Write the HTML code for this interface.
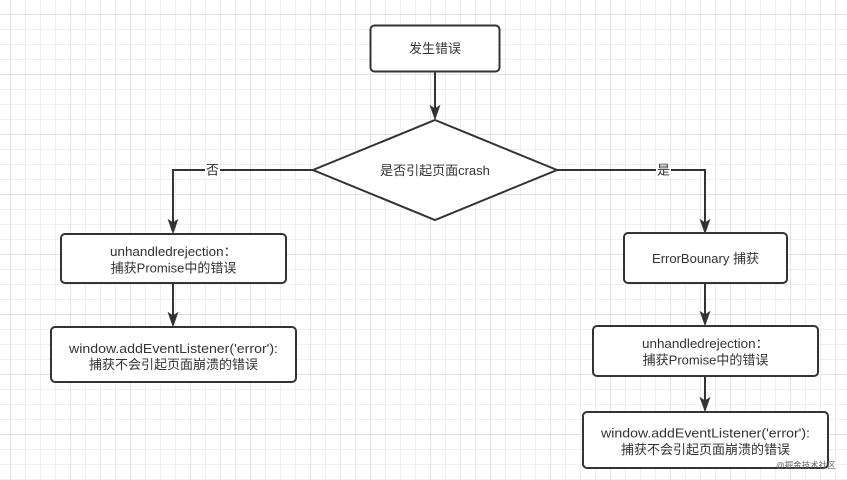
<!DOCTYPE html>
<html><head><meta charset="utf-8"><style>
html,body{margin:0;padding:0;background:#fff;}
svg{display:block;}
text{font-family:"Liberation Sans","Noto Sans CJK SC",sans-serif;font-size:13px;fill:#333;}
</style></head><body>
<svg width="847" height="480" viewBox="0 0 847 480" xmlns="http://www.w3.org/2000/svg">
<defs>
<pattern id="g" patternUnits="userSpaceOnUse" x="10" y="14" width="60" height="60">
<rect x="0" y="0" width="60" height="60" fill="#fff"/>
<rect x="15" y="0" width="1" height="60" fill="#efefef"/>
<rect x="30" y="0" width="1" height="60" fill="#efefef"/>
<rect x="45" y="0" width="1" height="60" fill="#efefef"/>
<rect x="0" y="15" width="60" height="1" fill="#efefef"/>
<rect x="0" y="30" width="60" height="1" fill="#efefef"/>
<rect x="0" y="45" width="60" height="1" fill="#efefef"/>
<rect x="0" y="0" width="1" height="60" fill="#e2e2e2"/>
<rect x="0" y="0" width="60" height="1" fill="#e2e2e2"/>
</pattern>
</defs>
<rect x="0" y="0" width="847" height="480" fill="url(#g)"/>

<g stroke="#333" stroke-width="2" fill="none">
<!-- top to diamond -->
<line x1="435" y1="72" x2="435" y2="110"/>
<!-- left branch -->
<polyline points="313,170 173,170 173,223"/>
<!-- right branch -->
<polyline points="557,170 705,170 705,223"/>
<!-- left column -->
<line x1="173" y1="283" x2="173" y2="316"/>
<!-- right column -->
<line x1="705" y1="283" x2="705" y2="315"/>
<line x1="705" y1="376" x2="705" y2="402"/>
</g>

<g fill="#333" stroke="#333" stroke-width="1">
<polygon points="435,119 430.5,106 435,109 439.5,106"/>
<polygon points="173,233 168.5,220 173,223 177.5,220"/>
<polygon points="705,233 700.5,220 705,223 709.5,220"/>
<polygon points="173,326 168.5,313 173,316 177.5,313"/>
<polygon points="705,325 700.5,312 705,315 709.5,312"/>
<polygon points="705,411 700.5,398 705,401 709.5,398"/>
</g>

<g stroke="#333" stroke-width="2" fill="#fff">
<rect x="370.5" y="25.5" width="129" height="46" rx="4"/>
<polygon points="435,120 557,170 435,220 313,170"/>
<rect x="61" y="234" width="225" height="49" rx="4"/>
<rect x="51" y="327" width="245" height="55" rx="4"/>
<rect x="624" y="233" width="163" height="50" rx="4"/>
<rect x="593" y="326" width="225" height="50" rx="4"/>
<rect x="583" y="412" width="245" height="56" rx="4"/>
</g>

<!-- edge labels -->
<rect x="205" y="162" width="15" height="16" fill="#fff"/>
<text x="212.5" y="170" text-anchor="middle" dominant-baseline="central">否</text>
<rect x="656" y="162" width="15" height="16" fill="#fff"/>
<text x="663.5" y="170" text-anchor="middle" dominant-baseline="central">是</text>

<text x="435" y="48.5" text-anchor="middle" dominant-baseline="central">发生错误</text>
<text x="435" y="170.5" text-anchor="middle" dominant-baseline="central">是否引起页面crash</text>

<text x="173.5" y="251.5" text-anchor="middle" dominant-baseline="central" textLength="127" lengthAdjust="spacingAndGlyphs">unhandledrejection：</text>
<text x="173.5" y="268" text-anchor="middle" dominant-baseline="central">捕获Promise中的错误</text>

<text x="173.5" y="348.5" text-anchor="middle" dominant-baseline="central" textLength="209" lengthAdjust="spacingAndGlyphs">window.addEventListener('error'):</text>
<text x="173.5" y="364.5" text-anchor="middle" dominant-baseline="central">捕获不会引起页面崩溃的错误</text>

<text x="705.5" y="258.5" text-anchor="middle" dominant-baseline="central">ErrorBounary 捕获</text>

<text x="705.5" y="343.5" text-anchor="middle" dominant-baseline="central" textLength="127" lengthAdjust="spacingAndGlyphs">unhandledrejection：</text>
<text x="705.5" y="360" text-anchor="middle" dominant-baseline="central">捕获Promise中的错误</text>

<text x="705.5" y="433" text-anchor="middle" dominant-baseline="central" textLength="209" lengthAdjust="spacingAndGlyphs">window.addEventListener('error'):</text>
<text x="705.5" y="449.5" text-anchor="middle" dominant-baseline="central">捕获不会引起页面崩溃的错误</text>

<text x="776" y="468" style="font-size:8.5px;fill:#666;">@掘金技术社区</text>
</svg>
</body></html>
